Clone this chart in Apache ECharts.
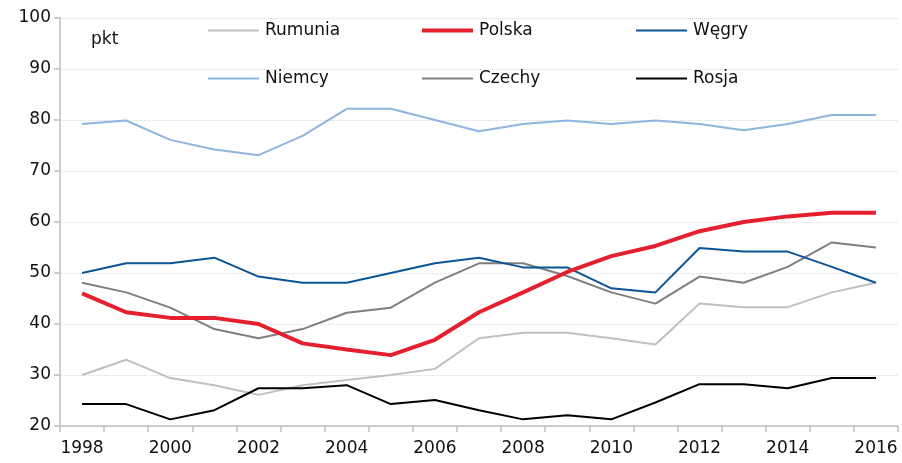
<!DOCTYPE html>
<html>
<head>
<meta charset="utf-8">
<script src="https://cdn.jsdelivr.net/npm/echarts@6/dist/echarts.min.js"></script>
<style>
  html, body { margin: 0; padding: 0; background: #fff; }
  #chart { width: 902px; height: 463px; }
</style>
</head>
<body>
<div id="chart"></div>
<script>
const years = ["1998", "1999", "2000", "2001", "2002", "2003", "2004", "2005", "2006", "2007",
  "2008", "2009", "2010", "2011", "2012", "2013", "2014", "2015", "2016"];

const rumunia = [30, 33, 29.4, 28, 26.1, 28, 29, 30, 31.2, 37.2, 38.3, 38.3, 37.2, 36, 44, 43.3, 43.3, 46.2, 48.1];
const polska  = [46, 42.3, 41.2, 41.2, 40, 36.2, 35, 33.9, 36.9, 42.3, 46.2, 50.2, 53.3, 55.3, 58.2, 60, 61.1, 61.8, 61.8];
const wegry   = [50, 51.9, 51.9, 53, 49.3, 48.1, 48.1, 50, 51.9, 53, 51.1, 51.1, 47, 46.2, 54.9, 54.2, 54.2, 51.2, 48.1];
const niemcy  = [79.2, 79.9, 76.1, 74.2, 73.1, 76.9, 82.2, 82.2, 80, 77.8, 79.2, 79.9, 79.2, 79.9, 79.2, 78, 79.2, 81, 81];
const czechy  = [48.1, 46.2, 43.2, 39, 37.2, 39, 42.2, 43.2, 48.1, 51.9, 51.9, 49.4, 46.2, 44, 49.3, 48.1, 51.2, 56, 55];
const rosja   = [24.3, 24.3, 21.3, 23.1, 27.4, 27.4, 28, 24.3, 25.1, 23.1, 21.3, 22.1, 21.3, 24.6, 28.2, 28.2, 27.4, 29.4, 29.4];

const font = "'DejaVu Sans', sans-serif";
const fontSize = 17;

function line(name, data, color, width, z) {
  return {
    name: name,
    type: "line",
    data: data,
    symbol: "none",
    z: z,
    lineStyle: { color: color, width: width },
    itemStyle: { color: color }
  };
}

// one legend per entry so the columns line up like the original
function legendItem(left, top, name, thick) {
  return {
    left: left,
    top: top,
    icon: "rect",
    itemWidth: 51,
    itemHeight: thick,
    data: [name],
    textStyle: { fontFamily: font, fontSize: fontSize, color: "#111", padding: [0, 0, 0, 1] }
  };
}

const chart = echarts.init(document.getElementById("chart"));
chart.setOption({
  animation: false,
  backgroundColor: "#fff",
  grid: { left: 60, right: 4, top: 18, bottom: 37 },
  legend: [
    legendItem(203, 17, "Rumunia", 2),
    legendItem(417, 17, "Polska", 4),
    legendItem(631, 17, "Węgry", 2),
    legendItem(203, 65, "Niemcy", 2),
    legendItem(417, 65, "Czechy", 2),
    legendItem(631, 65, "Rosja", 2)
  ],
  graphic: [{
    type: "text",
    left: 91,
    top: 31,
    style: { text: "pkt", fontFamily: font, fontSize: fontSize, fill: "#111" }
  }],
  xAxis: {
    type: "category",
    data: years,
    boundaryGap: true,
    axisLine: { lineStyle: { color: "#bfbfbf", width: 1.5 } },
    axisTick: { show: true, interval: 0, length: 6, lineStyle: { color: "#bfbfbf", width: 1.5 } },
    axisLabel: { interval: 1, fontFamily: font, fontSize: fontSize, color: "#111", margin: 14 }
  },
  yAxis: {
    type: "value",
    min: 20,
    max: 100,
    interval: 10,
    axisLine: { show: true, lineStyle: { color: "#bfbfbf", width: 1.5 } },
    axisTick: { show: true, length: 6, lineStyle: { color: "#bfbfbf", width: 1.5 } },
    axisLabel: { fontFamily: font, fontSize: fontSize, color: "#111", margin: 9 },
    splitLine: { lineStyle: { color: "#d9d9d9", type: "dotted", width: 1 } }
  },
  series: [
    line("Rumunia", rumunia, "#c0c0c0", 2, 2),
    line("Polska", polska, "#e5202e", 4, 5),
    line("Węgry", wegry, "#0b5496", 2, 3),
    line("Niemcy", niemcy, "#8eb4e0", 2, 2),
    line("Czechy", czechy, "#7f7f7f", 2, 2),
    line("Rosja", rosja, "#000000", 2, 2)
  ]
});
</script>
</body>
</html>
